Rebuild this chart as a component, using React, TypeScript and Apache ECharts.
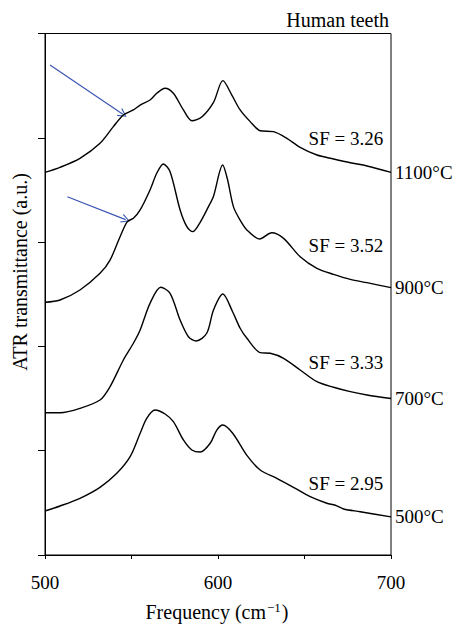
import React, { useEffect, useRef } from "react";
import * as echarts from "echarts";

const FONT = "Liberation Serif";

const xTicks = [500, 550, 600, 650, 700];
const xTickLabels = ["500", "", "600", "", "700"];

const s1100: [number, number][] = [
  [500, 3.669], [508.7, 3.717], [520.2, 3.803], [531.8, 3.947], [539.5, 4.107], [545.3, 4.219],
  [551.1, 4.267], [555.0, 4.314], [560.7, 4.362], [564.6, 4.427], [569.4, 4.475], [574.2, 4.427],
  [580.0, 4.267], [584.9, 4.164], [590.6, 4.2], [597.4, 4.34], [602.8, 4.548], [608.0, 4.41],
  [612.8, 4.267], [618.6, 4.155], [624.4, 4.068], [632.1, 4.059], [639.8, 3.995], [647.5, 3.909],
  [657.2, 3.835], [666.8, 3.797], [676.5, 3.761], [686.1, 3.73], [700, 3.669],
];
const s900: [number, number][] = [
  [500, 2.423], [508.7, 2.445], [520.2, 2.541], [531.8, 2.701], [537.6, 2.828], [543.4, 3.052],
  [547.6, 3.196], [551.1, 3.228], [555.0, 3.308], [560.7, 3.5], [564.6, 3.66], [568.4, 3.749],
  [572.3, 3.675], [578.1, 3.308], [582.0, 3.148], [585.4, 3.1], [589.7, 3.19], [594.5, 3.34],
  [597.4, 3.44], [602.7, 3.739], [605.5, 3.6], [608.9, 3.34], [612.8, 3.21], [616.7, 3.116],
  [624.0, 3.03], [631.1, 3.09], [637.9, 3.036], [647.5, 2.86], [657.2, 2.749], [666.8, 2.691],
  [676.5, 2.643], [686.1, 2.611], [700, 2.563],
];
const s700: [number, number][] = [
  [500, 1.364], [508.7, 1.364], [520.2, 1.406], [531.8, 1.486], [537.6, 1.614], [545.3, 1.87],
  [551.1, 2.03], [555.0, 2.157], [560.7, 2.413], [566.9, 2.567], [572.3, 2.509], [578.1, 2.253],
  [582.9, 2.093], [587.4, 2.052], [593.5, 2.126], [597.4, 2.349], [602.8, 2.502], [608.5, 2.33],
  [612.8, 2.174], [616.7, 2.078], [624.4, 1.94], [630.2, 1.934], [637.9, 1.886], [647.5, 1.774],
  [657.2, 1.662], [666.8, 1.608], [676.5, 1.566], [686.1, 1.534], [700, 1.5],
];
const s500: [number, number][] = [
  [500, 0.422], [508.7, 0.47], [520.2, 0.544], [531.8, 0.649], [541.5, 0.783], [549.2, 0.943],
  [555.0, 1.167], [558.8, 1.311], [563.6, 1.39], [569.4, 1.352], [574.2, 1.278], [580.0, 1.103],
  [584.9, 1.007], [589.7, 0.987], [595.5, 1.071], [599.3, 1.198], [602.8, 1.246], [608.5, 1.167],
  [616.7, 0.955], [624.4, 0.815], [634.0, 0.735], [643.6, 0.649], [653.3, 0.559],
  [662.9, 0.496], [667.8, 0.477], [672.6, 0.441], [682.2, 0.415], [700, 0.365],
];

const seriesNames = ["1100°C", "900°C", "700°C", "500°C"];
const seriesData = [s1100, s900, s700, s500];
const sfLabels = ["SF = 3.26", "SF = 3.52", "SF = 3.33", "SF = 2.95"];
const sfPositions: [number, number][] = [[695.5, 3.998], [695.5, 2.972], [695.5, 1.841], [695.5, 0.69]];

const arrows: [number, number][][] = [
  [[502.9, 4.698], [545.0, 4.225]],
  [[512.9, 3.435], [546.6, 3.215]],
];

export default function App() {
  const ref = useRef<HTMLDivElement>(null);
  useEffect(() => {
    if (!ref.current) return;
    const chart = echarts.init(ref.current, undefined, { renderer: "svg" });
    const txt = { fontFamily: FONT, fontSize: 19, color: "#000" };
    const lineSeries = seriesData.map((d, i) => ({
      type: "line",
      name: seriesNames[i],
      data: d,
      smooth: 0.3,
      showSymbol: false,
      symbol: "none",
      clip: false,
      lineStyle: { color: "#000", width: 1.4 },
      endLabel: { show: true, formatter: seriesNames[i], distance: 4, ...txt },
      markPoint: {
        symbol: "circle",
        symbolSize: 0,
        data: [
          {
            coord: sfPositions[i],
            label: { show: true, position: "left", distance: 0, formatter: sfLabels[i], ...txt },
          },
        ],
      },
    }));
    chart.setOption({
      animation: false,
      title: {
        text: "Human teeth",
        right: 71,
        top: 10,
        padding: 0,
        textStyle: { fontFamily: FONT, fontSize: 20, fontWeight: "normal", color: "#000" },
      },
      grid: {
        left: 45,
        right: 69,
        top: 33.5,
        bottom: 69,
        show: true,
        borderColor: "#000",
        borderWidth: 1,
      },
      xAxis: {
        type: "value",
        min: 500,
        max: 700,
        interval: 50,
        axisLine: { lineStyle: { color: "#000", width: 1 } },
        axisTick: { inside: false, length: 4, lineStyle: { color: "#000" } },
        axisLabel: {
          margin: 18,
          ...txt,
          formatter: (v: number) => xTickLabels[xTicks.indexOf(v)] ?? "",
        },
        splitLine: { show: false },
      },
      yAxis: {
        type: "value",
        min: 0,
        max: 5,
        interval: 1,
        axisLine: { show: true, lineStyle: { color: "#000", width: 1 } },
        axisTick: { show: true, inside: false, length: 7, lineStyle: { color: "#000" } },
        axisLabel: { show: false },
        splitLine: { show: false },
      },
      graphic: [
        {
          type: "text",
          x: 20,
          y: 272,
          rotation: Math.PI / 2,
          style: {
            text: "ATR transmittance (a.u.)",
            fontFamily: FONT,
            fontSize: 20,
            fill: "#000",
            align: "center",
            verticalAlign: "middle",
          },
        },
        {
          type: "text",
          x: 217,
          y: 612,
          style: {
            text: "Frequency (cm{sup|−1})",
            fontFamily: FONT,
            fontSize: 20,
            fill: "#000",
            align: "center",
            verticalAlign: "middle",
            rich: {
              sup: {
                fontFamily: FONT,
                fontSize: 13,
                fill: "#000",
                verticalAlign: "bottom",
                padding: [0, 1, 9, 1],
              },
            },
          },
        },
      ],
      series: [
        ...lineSeries,
        {
          type: "lines",
          coordinateSystem: "cartesian2d",
          symbol: ["none", "path://M5,0 L10,9 L9,10 L5,2.2 L1,10 L0,9 Z"],
          symbolSize: 9,
          lineStyle: { color: "#3a56b4", width: 1.2, opacity: 1 },
          itemStyle: { color: "#3a56b4" },
          data: arrows.map((c) => ({ coords: c })),
        },
      ],
    });
    return () => chart.dispose();
  }, []);
  return (
    <div
      ref={ref}
      style={{ position: "absolute", left: 0, top: 0, width: 460, height: 624 }}
    />
  );
}
